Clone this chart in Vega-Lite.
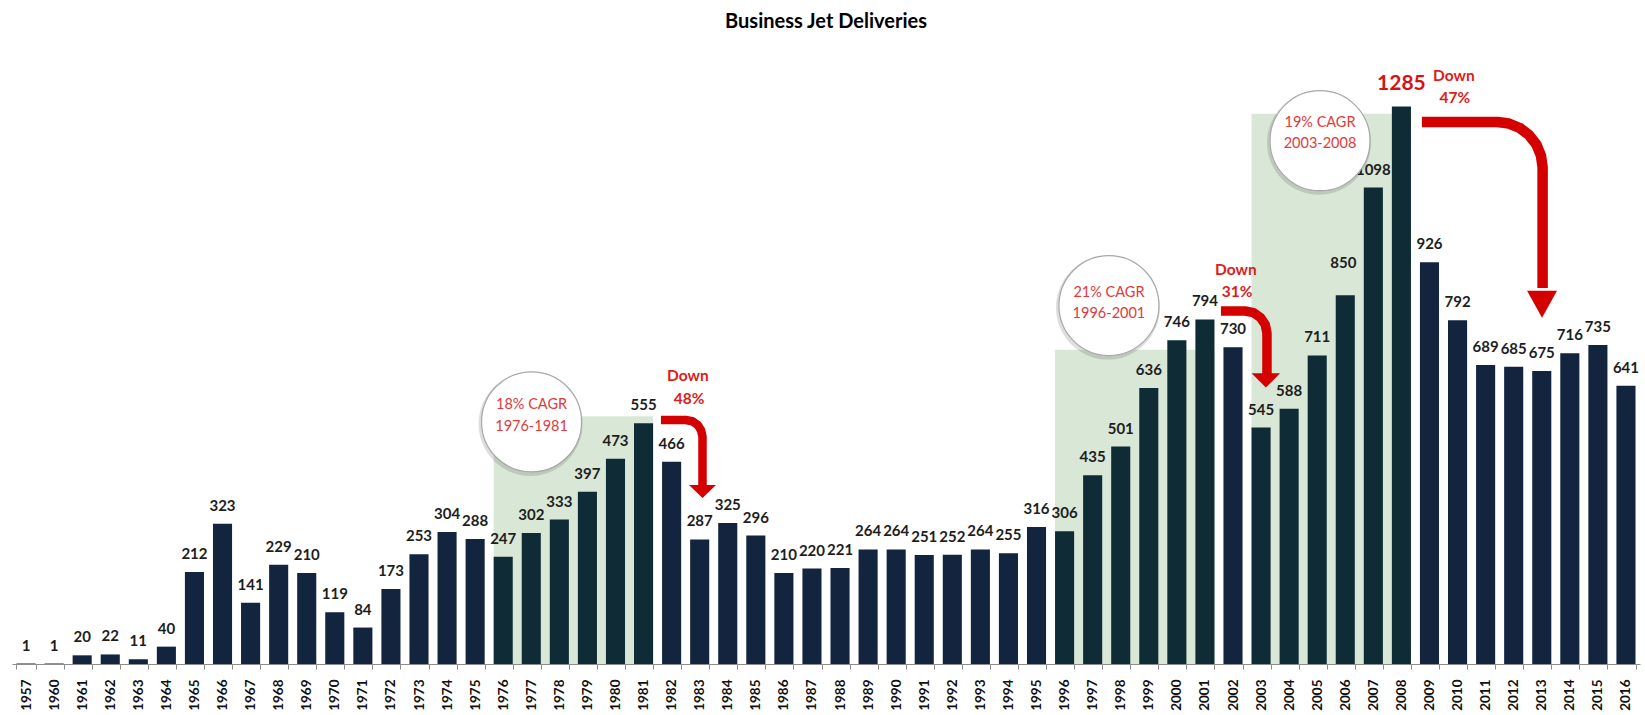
{
  "$schema": "https://vega.github.io/schema/vega-lite/v6.json",
  "width": 1628,
  "height": 604,
  "autosize": {"type": "none"},
  "padding": {"left": 12, "right": 5, "top": 60, "bottom": 51},
  "background": "white",
  "title": {"text": "Business Jet Deliveries", "font": "Lato", "fontSize": 20, "fontWeight": "bold", "color": "#000000", "anchor": "middle", "frame": "group", "offset": 12, "baseline": "alphabetic"},
  "config": {"view": {"stroke": null}, "axis": {"grid": false}},
  "datasets": {
    "bars": [
      {"year": "1957", "value": 1, "grp": "n"}, {"year": "1960", "value": 1, "grp": "n"}, {"year": "1961", "value": 20, "grp": "n"},
      {"year": "1962", "value": 22, "grp": "n"}, {"year": "1963", "value": 11, "grp": "n"}, {"year": "1964", "value": 40, "grp": "n"},
      {"year": "1965", "value": 212, "grp": "n"}, {"year": "1966", "value": 323, "grp": "n"}, {"year": "1967", "value": 141, "grp": "n"},
      {"year": "1968", "value": 229, "grp": "n"}, {"year": "1969", "value": 210, "grp": "n"}, {"year": "1970", "value": 119, "grp": "n"},
      {"year": "1971", "value": 84, "grp": "n"}, {"year": "1972", "value": 173, "grp": "n"}, {"year": "1973", "value": 253, "grp": "n"},
      {"year": "1974", "value": 304, "grp": "n"}, {"year": "1975", "value": 288, "grp": "n"}, {"year": "1976", "value": 247, "grp": "g"},
      {"year": "1977", "value": 302, "grp": "g"}, {"year": "1978", "value": 333, "grp": "g"}, {"year": "1979", "value": 397, "grp": "g"},
      {"year": "1980", "value": 473, "grp": "g"}, {"year": "1981", "value": 555, "grp": "g"}, {"year": "1982", "value": 466, "grp": "n"},
      {"year": "1983", "value": 287, "grp": "n"}, {"year": "1984", "value": 325, "grp": "n"}, {"year": "1985", "value": 296, "grp": "n"},
      {"year": "1986", "value": 210, "grp": "n"}, {"year": "1987", "value": 220, "grp": "n"}, {"year": "1988", "value": 221, "grp": "n"},
      {"year": "1989", "value": 264, "grp": "n"}, {"year": "1990", "value": 264, "grp": "n"}, {"year": "1991", "value": 251, "grp": "n"},
      {"year": "1992", "value": 252, "grp": "n"}, {"year": "1993", "value": 264, "grp": "n"}, {"year": "1994", "value": 255, "grp": "n"},
      {"year": "1995", "value": 316, "grp": "n"}, {"year": "1996", "value": 306, "grp": "g"}, {"year": "1997", "value": 435, "grp": "g"},
      {"year": "1998", "value": 501, "grp": "g"}, {"year": "1999", "value": 636, "grp": "g"}, {"year": "2000", "value": 746, "grp": "g"},
      {"year": "2001", "value": 794, "grp": "g"}, {"year": "2002", "value": 730, "grp": "n"}, {"year": "2003", "value": 545, "grp": "g"},
      {"year": "2004", "value": 588, "grp": "g"}, {"year": "2005", "value": 711, "grp": "g"}, {"year": "2006", "value": 850, "grp": "g"},
      {"year": "2007", "value": 1098, "grp": "g"}, {"year": "2008", "value": 1285, "grp": "g"}, {"year": "2009", "value": 926, "grp": "n"},
      {"year": "2010", "value": 792, "grp": "n"}, {"year": "2011", "value": 689, "grp": "n"}, {"year": "2012", "value": 685, "grp": "n"},
      {"year": "2013", "value": 675, "grp": "n"}, {"year": "2014", "value": 716, "grp": "n"}, {"year": "2015", "value": 735, "grp": "n"},
      {"year": "2016", "value": 641, "grp": "n"}
    ],
    "regions": [
      {"u0": 17.16, "u1": 22.84, "top": 571},
      {"u0": 37.16, "u1": 42.84, "top": 724},
      {"u0": 44.16, "u1": 49.84, "top": 1268}
    ],
    "circles": [
      {"u": 18.51, "v": 558}, {"u": 39.08, "v": 826}, {"u": 46.6, "v": 1206}
    ],
    "cagr": [
      {"u": 18.51, "v": 597, "t": "18% CAGR"}, {"u": 18.51, "v": 546, "t": "1976-1981"},
      {"u": 39.08, "v": 854, "t": "21% CAGR"}, {"u": 39.08, "v": 807, "t": "1996-2001"},
      {"u": 46.6, "v": 1247, "t": "19% CAGR"}, {"u": 46.6, "v": 1198, "t": "2003-2008"}
    ],
    "down": [
      {"u": 24.08, "v": 664, "t": "Down"}, {"u": 24.12, "v": 611, "t": "48%"},
      {"u": 43.6, "v": 909, "t": "Down"}, {"u": 43.65, "v": 858, "t": "31%"},
      {"u": 51.37, "v": 1355, "t": "Down"}, {"u": 51.4, "v": 1304, "t": "47%"}
    ],
    "arrows": [
      {"a": "a1", "i": 0, "u": 23.12, "v": 562.3}, {"a": "a1", "i": 1, "u": 24.0, "v": 562.3},
      {"a": "a1", "i": 2, "u": 24.24, "v": 559.5}, {"a": "a1", "i": 3, "u": 24.43, "v": 551.0},
      {"a": "a1", "i": 4, "u": 24.55, "v": 538.5}, {"a": "a1", "i": 5, "u": 24.6, "v": 524.0},
      {"a": "a1", "i": 6, "u": 24.6, "v": 410.2},
      {"a": "a2", "i": 0, "u": 43.07, "v": 813.5}, {"a": "a2", "i": 1, "u": 43.93, "v": 813.5},
      {"a": "a2", "i": 2, "u": 44.23, "v": 809.8}, {"a": "a2", "i": 3, "u": 44.48, "v": 798.5},
      {"a": "a2", "i": 4, "u": 44.65, "v": 781.9}, {"a": "a2", "i": 5, "u": 44.71, "v": 762.4},
      {"a": "a2", "i": 6, "u": 44.71, "v": 668.4},
      {"a": "a3", "i": 0, "u": 50.23, "v": 1249.1}, {"a": "a3", "i": 1, "u": 52.92, "v": 1249.1},
      {"a": "a3", "i": 2, "u": 53.33, "v": 1245.6}, {"a": "a3", "i": 3, "u": 53.72, "v": 1235.3},
      {"a": "a3", "i": 4, "u": 54.05, "v": 1218.7}, {"a": "a3", "i": 5, "u": 54.31, "v": 1197.3},
      {"a": "a3", "i": 6, "u": 54.47, "v": 1172.1}, {"a": "a3", "i": 7, "u": 54.53, "v": 1145.4},
      {"a": "a3", "i": 8, "u": 54.53, "v": 866.6}
    ],
    "heads": [
      {"a": "a1", "u": 24.6, "v": 397.5}, {"a": "a2", "u": 44.67, "v": 653.4}, {"a": "a3", "u": 54.51, "v": 829.2}
    ]
  },
  "layer": [
    {
      "data": {"name": "regions"},
      "mark": {"type": "rect", "color": "#d9e7d7"},
      "encoding": {
        "x": {"field": "u0", "type": "quantitative", "scale": {"domain": [0, 58], "nice": false, "zero": false}, "axis": null},
        "x2": {"field": "u1"},
        "y": {"field": "top", "type": "quantitative", "scale": {"domain": [0, 1392], "nice": false}, "axis": null},
        "y2": {"datum": 0}
      }
    },
    {
      "data": {"name": "bars"},
      "mark": {"type": "bar"},
      "encoding": {
        "x": {"field": "year", "type": "ordinal", "sort": null,
          "scale": {"paddingInner": 0.32, "paddingOuter": 0.16},
          "axis": {"title": null, "labelAngle": -90, "labelFont": "Lato", "labelFontWeight": "bold", "labelFontSize": 13.5, "labelColor": "#111111", "labelPadding": 10, "tickBand": "extent", "tickSize": 5, "tickColor": "#8c8c8c", "domainColor": "#8c8c8c", "domainWidth": 1.2}},
        "y": {"field": "value", "type": "quantitative", "scale": {"domain": [0, 1392], "nice": false}, "axis": null},
        "color": {"field": "grp", "type": "nominal", "scale": {"domain": ["n", "g"], "range": ["#13243f", "#0f2c36"]}, "legend": null}
      }
    },
    {
      "data": {"name": "bars"},
      "transform": [{"filter": "datum.year != '2008' && datum.year != '2006'"}, {"calculate": "format(datum.value, 'd')", "as": "lbl"}],
      "mark": {"type": "text", "font": "Lato", "fontWeight": "bold", "fontSize": 15, "color": "#1e1e1e", "baseline": "middle", "dy": -18},
      "encoding": {
        "x": {"field": "year", "type": "ordinal", "sort": null, "scale": {"domain": ["1957","1960","1961","1962","1963","1964","1965","1966","1967","1968","1969","1970","1971","1972","1973","1974","1975","1976","1977","1978","1979","1980","1981","1982","1983","1984","1985","1986","1987","1988","1989","1990","1991","1992","1993","1994","1995","1996","1997","1998","1999","2000","2001","2002","2003","2004","2005","2006","2007","2008","2009","2010","2011","2012","2013","2014","2015","2016"], "paddingInner": 0.32, "paddingOuter": 0.16}, "axis": null},
        "y": {"field": "value", "type": "quantitative", "scale": {"domain": [0, 1392], "nice": false}, "axis": null},
        "text": {"field": "lbl", "type": "nominal"}
      }
    },
    {
      "data": {"name": "bars"},
      "transform": [{"filter": "datum.year == '2006'"}],
      "mark": {"type": "text", "font": "Lato", "fontWeight": "bold", "fontSize": 15, "color": "#1e1e1e", "baseline": "middle", "dy": -32, "dx": -2},
      "encoding": {
        "x": {"field": "year", "type": "ordinal", "sort": null, "scale": {"domain": ["1957","1960","1961","1962","1963","1964","1965","1966","1967","1968","1969","1970","1971","1972","1973","1974","1975","1976","1977","1978","1979","1980","1981","1982","1983","1984","1985","1986","1987","1988","1989","1990","1991","1992","1993","1994","1995","1996","1997","1998","1999","2000","2001","2002","2003","2004","2005","2006","2007","2008","2009","2010","2011","2012","2013","2014","2015","2016"], "paddingInner": 0.32, "paddingOuter": 0.16}, "axis": null},
        "y": {"field": "value", "type": "quantitative", "scale": {"domain": [0, 1392], "nice": false}, "axis": null},
        "text": {"field": "value", "type": "nominal"}
      }
    },
    {
      "data": {"name": "bars"},
      "transform": [{"filter": "datum.year == '2008'"}],
      "mark": {"type": "text", "font": "Lato", "fontWeight": "bold", "fontSize": 21, "color": "#d41414", "baseline": "middle", "dy": -22},
      "encoding": {
        "x": {"field": "year", "type": "ordinal", "sort": null, "scale": {"domain": ["1957","1960","1961","1962","1963","1964","1965","1966","1967","1968","1969","1970","1971","1972","1973","1974","1975","1976","1977","1978","1979","1980","1981","1982","1983","1984","1985","1986","1987","1988","1989","1990","1991","1992","1993","1994","1995","1996","1997","1998","1999","2000","2001","2002","2003","2004","2005","2006","2007","2008","2009","2010","2011","2012","2013","2014","2015","2016"], "paddingInner": 0.32, "paddingOuter": 0.16}, "axis": null},
        "y": {"field": "value", "type": "quantitative", "scale": {"domain": [0, 1392], "nice": false}, "axis": null},
        "text": {"field": "value", "type": "nominal"}
      }
    },
    {
      "data": {"name": "circles"},
      "mark": {"type": "point", "shape": "circle", "filled": true, "color": "#000000", "opacity": 0.13, "size": 10816, "xOffset": -1, "yOffset": 2},
      "encoding": {
        "x": {"field": "u", "type": "quantitative", "scale": {"domain": [0, 58], "nice": false, "zero": false}, "axis": null},
        "y": {"field": "v", "type": "quantitative", "scale": {"domain": [0, 1392], "nice": false}, "axis": null}
      }
    },
    {
      "data": {"name": "circles"},
      "mark": {"type": "point", "shape": "circle", "filled": true, "fill": "#ffffff", "stroke": "#a8a8a8", "strokeWidth": 1.2, "opacity": 1, "size": 10000},
      "encoding": {
        "x": {"field": "u", "type": "quantitative", "scale": {"domain": [0, 58], "nice": false, "zero": false}, "axis": null},
        "y": {"field": "v", "type": "quantitative", "scale": {"domain": [0, 1392], "nice": false}, "axis": null}
      }
    },
    {
      "data": {"name": "cagr"},
      "mark": {"type": "text", "font": "Lato", "fontSize": 14.5, "color": "#e03a3a", "baseline": "middle", "align": "center"},
      "encoding": {
        "x": {"field": "u", "type": "quantitative", "scale": {"domain": [0, 58], "nice": false, "zero": false}, "axis": null},
        "y": {"field": "v", "type": "quantitative", "scale": {"domain": [0, 1392], "nice": false}, "axis": null},
        "text": {"field": "t", "type": "nominal"}
      }
    },
    {
      "data": {"name": "arrows"},
      "mark": {"type": "line", "color": "#d40000", "strokeCap": "butt", "strokeJoin": "round"},
      "encoding": {
        "x": {"field": "u", "type": "quantitative", "scale": {"domain": [0, 58], "nice": false, "zero": false}, "axis": null},
        "y": {"field": "v", "type": "quantitative", "scale": {"domain": [0, 1392], "nice": false}, "axis": null},
        "detail": {"field": "a", "type": "nominal"},
        "order": {"field": "i", "type": "quantitative"},
        "strokeWidth": {"field": "a", "type": "ordinal", "scale": {"domain": ["a1", "a2", "a3"], "range": [8.5, 10.5, 14]}, "legend": null}
      }
    },
    {
      "data": {"name": "heads"},
      "mark": {"type": "point", "filled": true, "color": "#d40000", "opacity": 1},
      "encoding": {
        "x": {"field": "u", "type": "quantitative", "scale": {"domain": [0, 58], "nice": false, "zero": false}, "axis": null},
        "y": {"field": "v", "type": "quantitative", "scale": {"domain": [0, 1392], "nice": false}, "axis": null},
        "shape": {"field": "a", "type": "nominal", "scale": {"domain": ["a1", "a2", "a3"], "range": ["M-1,-0.48L1,-0.48L0,0.48Z", "M-1,-0.5L1,-0.5L0,0.5Z", "M-1,-0.9L1,-0.9L0,0.9Z"]}, "legend": null},
        "size": {"field": "a", "type": "ordinal", "scale": {"domain": ["a1", "a2", "a3"], "range": [729, 900, 1521]}, "legend": null}
      }
    },
    {
      "data": {"name": "down"},
      "mark": {"type": "text", "font": "Lato", "fontWeight": "bold", "fontSize": 15.5, "color": "#dd1c1c", "baseline": "middle", "align": "center"},
      "encoding": {
        "x": {"field": "u", "type": "quantitative", "scale": {"domain": [0, 58], "nice": false, "zero": false}, "axis": null},
        "y": {"field": "v", "type": "quantitative", "scale": {"domain": [0, 1392], "nice": false}, "axis": null},
        "text": {"field": "t", "type": "nominal"}
      }
    }
  ],
  "resolve": {"scale": {"x": "independent"}, "axis": {"x": "independent"}}
}
